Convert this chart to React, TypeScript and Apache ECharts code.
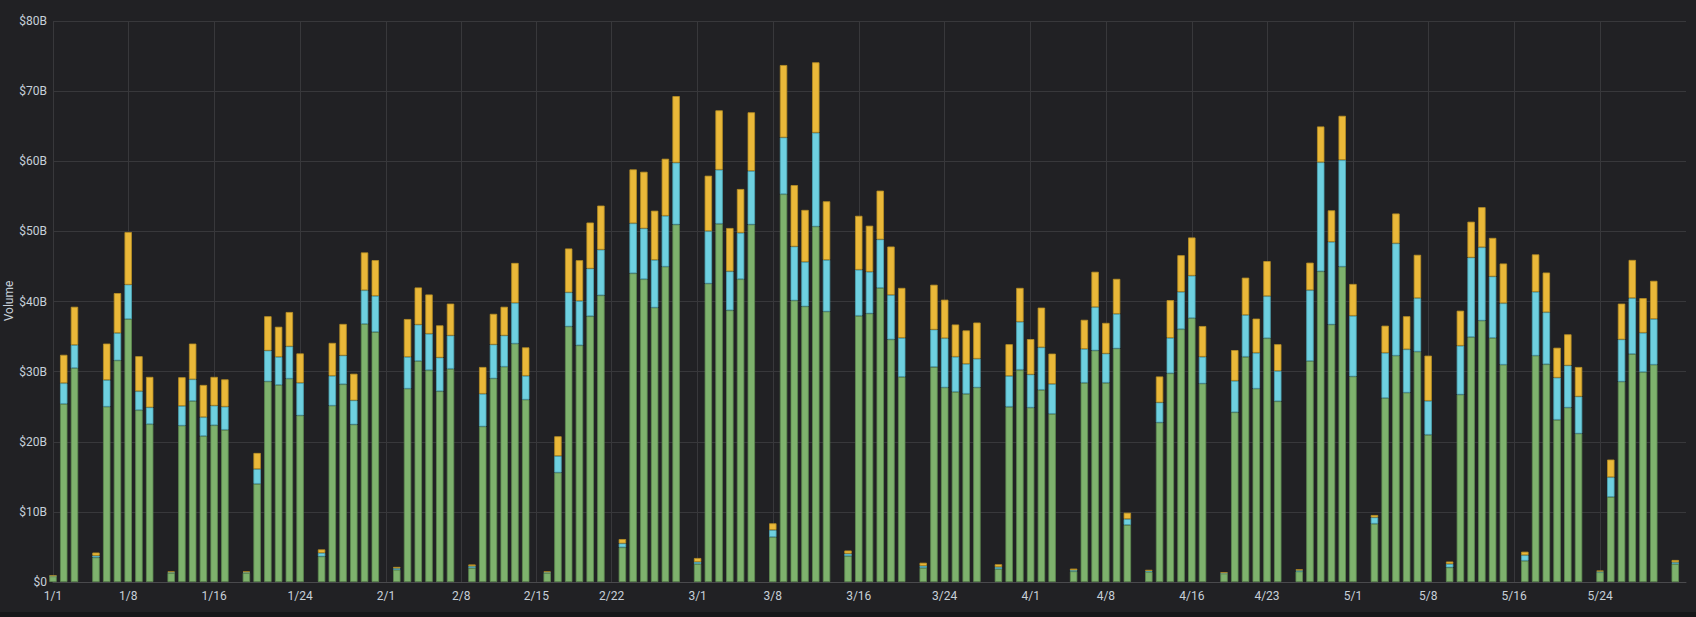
import React, { useEffect, useRef } from "react";
import * as echarts from "echarts";

// Days Jan 1 2020 .. Jun 1 2020 (leap year)
const MONTH_DAYS = [31, 29, 31, 30, 31];
const CATEGORIES: string[] = [];
MONTH_DAYS.forEach((n, m) => {
  for (let d = 1; d <= n; d++) CATEGORIES.push(`${m + 1}/${d}`);
});
CATEGORIES.push("6/1");

const TICK_LABELS = [
  "1/1", "1/8", "1/16", "1/24", "2/1", "2/8", "2/15", "2/22", "3/1", "3/8",
  "3/16", "3/24", "4/1", "4/8", "4/16", "4/23", "5/1", "5/8", "5/16", "5/24",
];

const Y_TICKS = [0, 10, 20, 30, 40, 50, 60, 70, 80];
const Y_NAME = "Volume";

// $B, one entry per day; null = no bar (Saturdays)
const GREEN = [
  0.8, 25.4, 30.5, null,
  3.5, 25.0, 31.6, 37.5, 24.5, 22.5, null,
  1.3, 22.3, 25.8, 20.8, 22.35, 21.7, null,
  1.3, 14.0, 28.6, 28.1, 29.0, 23.75, null,
  3.65, 25.15, 28.2, 22.46, 36.8, 35.65, null,
  1.75, 27.57, 31.5, 30.2, 27.2, 30.4, null,
  2.0, 22.18, 29.03, 30.7, 34.0, 26.0, null,
  1.3, 15.6, 36.44, 33.75, 37.9, 40.88, null,
  4.94, 44.02, 43.18, 39.13, 44.97, 50.98, null,
  2.58, 42.56, 51.09, 38.74, 43.18, 50.98, null,
  6.4, 55.3, 40.15, 39.3, 50.7, 38.57, null,
  3.7, 37.96, 38.29, 41.94, 34.59, 29.25, null,
  2.02, 30.66, 27.74, 27.12, 26.84, 27.74, null,
  1.85, 24.99, 30.26, 24.87, 27.4, 23.98, null,
  1.52, 28.41, 33.01, 28.41, 33.3, 8.14, null,
  1.46, 22.74, 29.76, 36.05, 37.62, 28.3, null,
  1.2, 24.2, 32.12, 27.57, 34.76, 25.77, null,
  1.5, 31.5, 44.3, 36.72, 44.97, 29.31, null,
  8.31, 26.22, 32.28, 27.0, 32.85, 21.0, null,
  2.08, 26.73, 34.92, 37.28, 34.81, 30.99, null,
  3.03, 32.28, 31.05, 23.13, 24.87, 21.17, null,
  1.4, 12.13, 28.58, 32.51, 29.93, 30.99, null,
  2.58, null,
];

const BLUE = [
  0.05, 2.95, 3.3, null,
  0.25, 3.8, 3.9, 4.9, 2.7, 2.4, null,
  0.1, 2.8, 3.1, 2.7, 2.8, 3.3, null,
  0.1, 2.1, 4.4, 4.0, 4.6, 4.65, null,
  0.5, 4.25, 4.1, 3.44, 4.8, 5.15, null,
  0.2, 4.53, 5.2, 5.2, 4.8, 4.75, null,
  0.25, 4.66, 4.83, 4.45, 5.8, 3.4, null,
  0.1, 2.37, 4.86, 6.34, 6.8, 6.51, null,
  0.56, 7.13, 7.24, 6.8, 7.25, 8.82, null,
  0.28, 7.47, 7.7, 5.56, 6.62, 7.64, null,
  1.01, 8.09, 7.69, 6.35, 13.37, 7.36, null,
  0.34, 6.57, 5.95, 6.91, 6.34, 5.56, null,
  0.28, 5.33, 7.02, 5.0, 4.27, 4.1, null,
  0.28, 4.38, 6.85, 4.72, 6.06, 4.26, null,
  0.16, 4.83, 6.18, 4.16, 4.94, 0.84, null,
  0.12, 2.86, 5.05, 5.33, 6.06, 3.82, null,
  0.08, 4.49, 5.95, 5.11, 6.0, 4.33, null,
  0.15, 10.11, 15.55, 11.79, 15.22, 8.65, null,
  0.9, 6.46, 16.01, 6.18, 7.63, 4.83, null,
  0.5, 6.96, 11.35, 10.45, 8.76, 8.76, null,
  0.79, 9.1, 7.41, 6.01, 6.01, 5.28, null,
  0.1, 2.81, 6.01, 7.97, 5.61, 6.52, null,
  0.23, null,
];

const YELLOW = [
  0.05, 4.05, 5.45, null,
  0.45, 5.2, 5.7, 7.5, 5.0, 4.35, null,
  0.1, 4.1, 5.1, 4.6, 4.1, 3.9, null,
  0.1, 2.3, 4.9, 4.3, 4.9, 4.2, null,
  0.5, 4.7, 4.5, 3.8, 5.4, 5.1, null,
  0.2, 5.4, 5.3, 5.6, 4.6, 4.55, null,
  0.25, 3.82, 4.38, 4.1, 5.7, 4.06, null,
  0.1, 2.81, 6.26, 5.8, 6.56, 6.29, null,
  0.62, 7.69, 8.08, 7.02, 8.14, 9.49, null,
  0.56, 7.91, 8.47, 6.18, 6.24, 8.36, null,
  0.96, 10.33, 8.76, 7.41, 10.04, 8.36, null,
  0.45, 7.69, 6.57, 6.96, 6.91, 7.13, null,
  0.45, 6.4, 5.5, 4.6, 4.77, 5.16, null,
  0.4, 4.54, 4.83, 5.05, 5.67, 4.33, null,
  0.23, 4.15, 5.05, 4.38, 4.99, 0.9, null,
  0.16, 3.71, 5.39, 5.22, 5.45, 4.38, null,
  0.07, 4.38, 5.33, 4.88, 5.0, 3.81, null,
  0.15, 3.93, 5.11, 4.49, 6.29, 4.54, null,
  0.34, 3.87, 4.26, 4.72, 6.18, 6.45, null,
  0.34, 5.0, 5.11, 5.72, 5.5, 5.67, null,
  0.5, 5.34, 5.67, 4.27, 4.44, 4.21, null,
  0.13, 2.52, 5.11, 5.45, 4.94, 5.44, null,
  0.33, null,
];

const SERIES_NAMES = ["Green", "Blue", "Yellow"];
const COLORS = ["#7eb26d", "#6ed0e0", "#eab839"];
const BORDERS = ["#5e8a50", "#4fa7b5", "#b88f25"];

export default function App() {
  const ref = useRef<HTMLDivElement>(null);

  useEffect(() => {
    document.body.style.margin = "0";
    document.body.style.background = "#212124";
    if (!ref.current) return;
    const chart = echarts.init(ref.current, null, { renderer: "svg" });
    const tickSet = new Set(TICK_LABELS);
    const showTick = (_i: number, v: string) => tickSet.has(v);
    const textColor = "#c7d0d9";
    const font = "Roboto, 'Helvetica Neue', Arial, sans-serif";
    const datasets = [GREEN, BLUE, YELLOW];

    chart.setOption({
      animation: false,
      backgroundColor: "#212124",
      grid: {
        left: 53,
        right: 10,
        top: 21,
        bottom: 35,
        containLabel: false,
        outerBoundsMode: "none",
      },
      graphic: [
        {
          type: "rect",
          left: 0,
          top: 612,
          shape: { width: 1696, height: 5 },
          style: { fill: "#161719" },
          silent: true,
        },
        {
          type: "text",
          x: 8.5,
          y: 301,
          rotation: Math.PI / 2,
          silent: true,
          style: {
            text: Y_NAME,
            fill: textColor,
            fontSize: 12,
            fontFamily: font,
            align: "center",
            verticalAlign: "middle",
          },
        },
      ],
      xAxis: {
        type: "category",
        data: CATEGORIES,
        boundaryGap: false,
        axisLine: { show: true, lineStyle: { color: "#4a4a4d", width: 1 } },
        axisTick: { show: false },
        axisLabel: {
          interval: showTick,
          color: textColor,
          fontSize: 12,
          fontFamily: font,
          margin: 8,
        },
        splitLine: {
          show: true,
          interval: showTick,
          lineStyle: { color: "#38383b", width: 1 },
        },
      },
      yAxis: {
        type: "value",
        min: 0,
        max: 80,
        interval: 10,
        axisLine: { show: false },
        axisTick: { show: false },
        axisLabel: {
          color: textColor,
          fontSize: 12,
          fontFamily: font,
          margin: 6,
          formatter: (v: number) =>
            Y_TICKS.includes(v) ? (v === 0 ? "$0" : `$${v}B`) : "",
        },
        splitLine: { show: true, lineStyle: { color: "#38383b", width: 1 } },
      },
      series: datasets.map((d, i) => ({
        name: SERIES_NAMES[i],
        type: "bar",
        stack: "volume",
        data: d,
        barWidth: 7.4,
        clip: true,
        itemStyle: {
          color: COLORS[i],
          borderColor: BORDERS[i],
          borderWidth: 0.8,
        },
      })),
    });
    return () => chart.dispose();
  }, []);

  return <div ref={ref} style={{ width: 1696, height: 617 }} />;
}
